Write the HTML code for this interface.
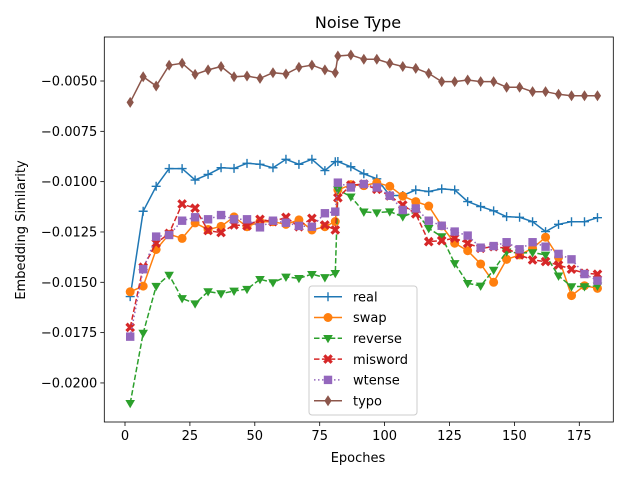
<!DOCTYPE html>
<html><head><meta charset="utf-8"><style>
body{margin:0;background:#fff}
svg{display:block;font-family:"DejaVu Sans","Liberation Sans",sans-serif}
</style></head><body>
<svg id="chart" width="640" height="480" xmlns="http://www.w3.org/2000/svg">
<rect width="640" height="480" fill="#fff"/>
<text x="358" y="28" font-size="16" text-anchor="middle" fill="#000">Noise Type</text>
<text x="358" y="462" font-size="13" text-anchor="middle" fill="#000">Epoches</text>
<text transform="translate(25,230) rotate(-90)" font-size="13" text-anchor="middle" fill="#000">Embedding Similarity</text>
<g id="plot"></g>
</svg>
<script>
// values in units of 1e-4
const epochs = [2,7,12,17,22,27,32,37,42,47,52,57,62,67,72,77,81,82,87,92,97,102,107,112,117,122,127,132,137,142,147,152,157,162,167,172,177,182];
const real = [-157.1,-114.7,-102.3,-93.5,-93.5,-99.2,-96.4,-93.1,-93.4,-90.9,-91.4,-93.1,-88.9,-91.4,-88.9,-94.5,-90.1,-90.0,-92.6,-96.1,-98.6,-106.9,-106.9,-104.1,-104.9,-103.6,-104.1,-109.9,-112.4,-114.5,-117.4,-117.7,-119.9,-124.8,-121.2,-119.9,-119.9,-117.9];
const swap = [-154.7,-151.9,-133.7,-126.1,-128.2,-120.5,-123.8,-122.2,-117.5,-122.4,-119.9,-119.9,-121.2,-119.0,-124,-122.4,-119.8,-104.1,-101.5,-102,-100.5,-102.3,-107.2,-109.9,-112.1,-122,-130.6,-134.3,-140.9,-150,-138.6,-136.4,-133.1,-127.6,-137.6,-156.6,-151.7,-153];
const reverse = [-210.1,-175.2,-151.9,-146.4,-158,-160.6,-154.6,-155.6,-154.3,-153.4,-148.5,-150.1,-147.3,-148,-146,-147.6,-145.5,-104,-107.5,-115,-115.4,-114.9,-117.4,-114.9,-123.2,-127.3,-140.6,-150.5,-151.8,-143.9,-134.8,-135.5,-135.2,-136.4,-146.8,-152.1,-152.1,-151.8];
const misword = [-172.4,-142.5,-130.6,-125.7,-111.1,-113.2,-124.3,-125.3,-121.5,-122,-118.7,-119.9,-117.7,-122.4,-118.2,-121.5,-124,-108,-101.7,-101.2,-103.8,-107.1,-111.6,-116,-129.8,-129.3,-128.1,-130.6,-133.1,-132.3,-133.1,-136.4,-138.9,-139.7,-141.4,-143.5,-145.5,-146];
const wtense = [-177,-143.5,-127.3,-126.5,-119.4,-117.7,-118.7,-116.6,-118.7,-118.7,-122.7,-119.4,-120.4,-122,-122.4,-115.7,-114.9,-100.5,-102.9,-101.2,-102.9,-107,-114.1,-113.3,-119.4,-121.9,-124.8,-126.8,-132.8,-132,-130.1,-133.6,-130.1,-132.3,-135.9,-138.6,-145.9,-149.2];
const typo = [-60.6,-47.9,-52.5,-42.2,-41.2,-46.7,-44.5,-42.8,-47.9,-47.5,-48.7,-45.9,-46.5,-43.2,-42.1,-44.5,-45.9,-37.6,-37.1,-39.2,-39.2,-41.2,-42.8,-43.7,-46.2,-50.3,-50.3,-49.5,-50.3,-50.3,-53.1,-53.1,-55.3,-55.3,-56.6,-57.3,-57.3,-57.3];
const xTicks = [0,25,50,75,100,125,150,175];
const yTicks = [-50,-75,-100,-125,-150,-175,-200];
const yTickLabels = ["\u22120.0050","\u22120.0075","\u22120.0100","\u22120.0125","\u22120.0150","\u22120.0175","\u22120.0200"];
const seriesNames = ["real","swap","reverse","misword","wtense","typo"];

const NS="http://www.w3.org/2000/svg";
const L=104.3,R=613.3,T=37,B=422;
function xs(e){return 125+e*2.596;}
function ys(v){return 81+(-50-v)*2.013;}
const g=document.getElementById('plot');
function mk(tag,attrs,parent){const e=document.createElementNS(NS,tag);for(const k in attrs)e.setAttribute(k,attrs[k]);(parent||g).appendChild(e);return e;}

xTicks.forEach((t,i)=>{
  const x=xs(t);
  const tk=mk('line',{x1:x,x2:x,y1:B,y2:B+4,stroke:'#000','stroke-width':0.8});
  
  
  const lb=mk('text',{x:x,y:B+18,'font-size':13,'text-anchor':'middle',fill:'#000'});
  lb.textContent=String(t);
  
  
});
yTicks.forEach((t,i)=>{
  const y=ys(t);
  const tk=mk('line',{x1:L-4,x2:L,y1:y,y2:y,stroke:'#000','stroke-width':0.8});
  
  
  const lb=mk('text',{x:L-7,y:y+4.5,'font-size':13,'text-anchor':'end',fill:'#000'});
  lb.textContent=yTickLabels[i];
  
  
});

const styles={
 real:{c:'#1f77b4',dash:'',m:'plus'},
 swap:{c:'#ff7f0e',dash:'',m:'circle'},
 reverse:{c:'#2ca02c',dash:'5.5,2.4',m:'tri'},
 misword:{c:'#d62728',dash:'5.5,2.4',m:'x'},
 wtense:{c:'#9467bd',dash:'1.5,2.5',m:'square'},
 typo:{c:'#8c564b',dash:'',m:'diamond'}
};
function marker(type,x,y,c,parent){
  let e;
  if(type==='plus'){e=mk('path',{d:`M${x-4.5},${y}H${x+4.5}M${x},${y-4.5}V${y+4.5}`,stroke:c,'stroke-width':1.4,fill:'none'},parent);}
  else if(type==='circle'){e=mk('circle',{cx:x,cy:y,r:4.5,fill:c},parent);}
  else if(type==='tri'){e=mk('path',{d:`M${x-4.8},${y-3.3}L${x+4.8},${y-3.3}L${x},${y+5}Z`,fill:c},parent);}
  else if(type==='x'){e=mk('path',{d:`M${x-3.7},${y-3.7}L${x+3.7},${y+3.7}M${x+3.7},${y-3.7}L${x-3.7},${y+3.7}`,stroke:c,'stroke-width':3.2,fill:'none'},parent);}
  else if(type==='square'){e=mk('rect',{x:x-4.2,y:y-4.2,width:8.4,height:8.4,fill:c},parent);}
  else {e=mk('path',{d:`M${x},${y-5.5}L${x+3.6},${y}L${x},${y+5.5}L${x-3.6},${y}Z`,fill:c},parent);}
  return e;
}
const data={real,swap,reverse,misword,wtense,typo};
seriesNames.forEach(n=>{
  const s=styles[n];
  const grp=mk('g',{});
  
  
  const pts=data[n].map((v,i)=>xs(epochs[i]).toFixed(1)+','+ys(v).toFixed(1)).join(' ');
  const ln=mk('polyline',{points:pts,fill:'none',stroke:s.c,'stroke-width':1.5,'stroke-dasharray':s.dash},grp);
  
  
  data[n].forEach((v,i)=>{
    const m=marker(s.m,xs(epochs[i]),ys(v),s.c,grp);
    
    
  });
});

const fr=mk('rect',{x:L,y:T,width:R-L,height:B-T,fill:'none',stroke:'#000','stroke-width':0.8});



const lg=mk('g',{});


const lbx=mk('rect',{x:309,y:286,width:108,height:129,rx:3,fill:'#fff','fill-opacity':0.8,stroke:'#ccc','stroke-width':1},lg);


seriesNames.forEach((n,i)=>{
  const s=styles[n];
  const y=296.7+i*20.8;
  const eg=mk('g',{},lg);
  
  
  mk('line',{x1:314,x2:342,y1:y,y2:y,stroke:s.c,'stroke-width':1.5,'stroke-dasharray':s.dash},eg);
  marker(s.m,328,y,s.c,eg);
  const t=mk('text',{x:353,y:y+4.7,'font-size':13,fill:'#000'},eg);
  t.textContent=n;
});
</script>
</body></html>
